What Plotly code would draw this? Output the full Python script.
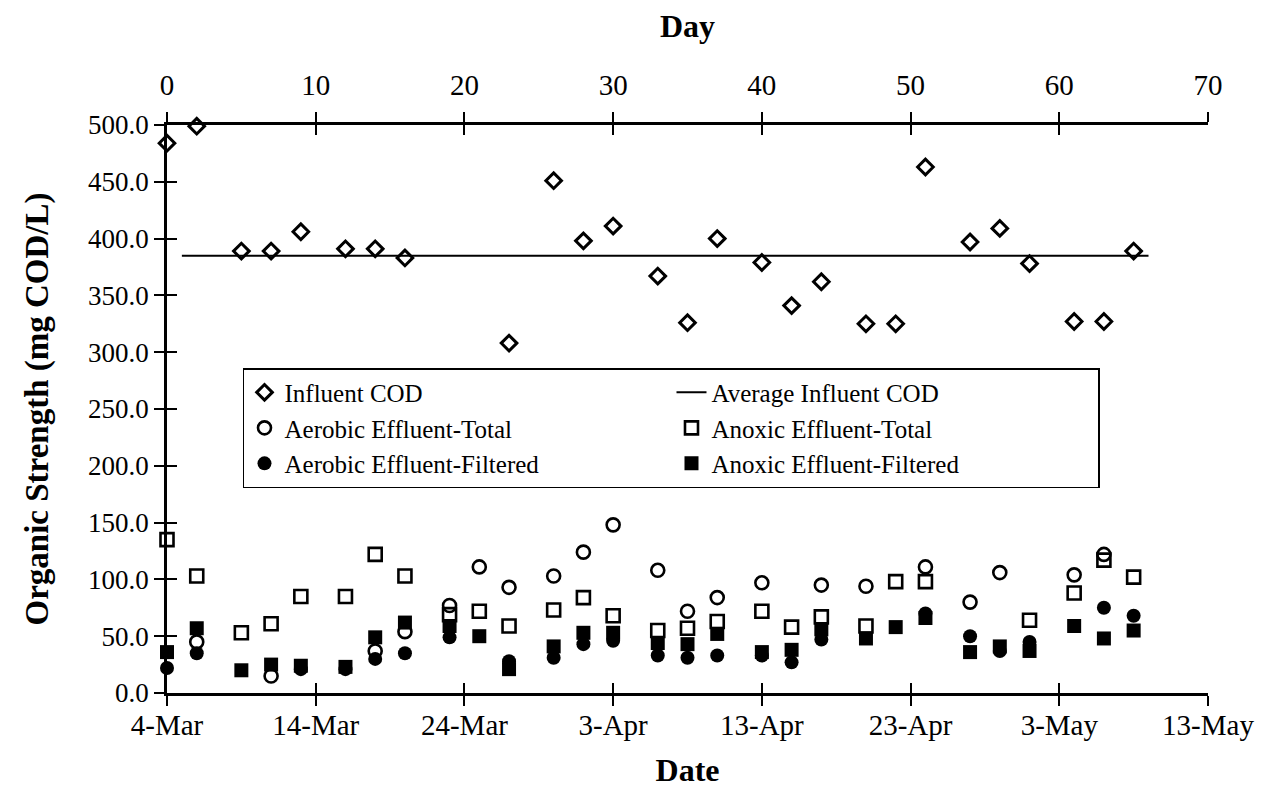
import plotly.graph_objects as go

# ---- data (x = day of operation, 0 = 4-Mar) ----
days = [0, 2, 5, 7, 9, 12, 14, 16, 19, 21, 23, 26, 28, 30, 33, 35, 37, 40, 42, 44,
        47, 49, 51, 54, 56, 58, 61, 63, 65]

influent_cod = [484, 499, 389, 389, 406, 391, 391, 383, None, None, 308, 451, 398, 411,
                367, 326, 400, 379, 341, 362, 325, 325, 463, 397, 409, 378, 327, 327, 389]

avg_days = [1, 66]
avg_influent = [385, 385]

aerobic_total = [None, 45, None, 15, None, None, 37, 54, 77, 111, 93, 103, 124, 148,
                 108, 72, 84, 97, None, 95, 94, None, 111, 80, 106, None, 104, 122, None]

anoxic_total = [135, 103, 53, 61, 85, 85, 122, 103, 69, 72, 59, 73, 84, 68,
                55, 57, 63, 72, 58, 67, 59, 98, 98, None, None, 64, 88, 117, 102]

aerobic_filtered = [22, 35, None, None, 21, 21, 30, 35, 49, None, 28, 31, 43, 46,
                    33, 31, 33, 33, 27, 47, None, None, 70, 50, 37, 45, None, 75, 68]

anoxic_filtered = [36, 57, 20, 25, 24, 23, 49, 62, 59, 50, 21, 41, 53, 53,
                   44, 43, 52, 36, 38, 56, 48, 58, 66, 36, 41, 37, 59, 48, 55]

day_ticks = [0, 10, 20, 30, 40, 50, 60, 70]
date_labels = ["4-Mar", "14-Mar", "24-Mar", "3-Apr", "13-Apr", "23-Apr", "3-May", "13-May"]
y_ticks = [0, 50, 100, 150, 200, 250, 300, 350, 400, 450, 500]

FONT = "Liberation Serif"

fig = go.Figure()

fig.add_trace(go.Scatter(
    x=days, y=influent_cod, mode="markers", name="Influent COD",
    marker=dict(symbol="diamond-open", size=12, color="black", line=dict(width=3, color="black")),
    cliponaxis=False))
fig.add_trace(go.Scatter(
    x=avg_days, y=avg_influent, mode="lines", name="Average Influent COD",
    line=dict(color="black", width=2), cliponaxis=False))
fig.add_trace(go.Scatter(
    x=days, y=aerobic_total, mode="markers", name="Aerobic Effluent-Total",
    marker=dict(symbol="circle-open", size=13, color="black", line=dict(width=2.6, color="black")),
    cliponaxis=False))
fig.add_trace(go.Scatter(
    x=days, y=anoxic_total, mode="markers", name="Anoxic Effluent-Total",
    marker=dict(symbol="square-open", size=13, color="black", line=dict(width=2.6, color="black")),
    cliponaxis=False))
fig.add_trace(go.Scatter(
    x=days, y=aerobic_filtered, mode="markers", name="Aerobic Effluent-Filtered",
    marker=dict(symbol="circle", size=14, color="black"),
    cliponaxis=False))
fig.add_trace(go.Scatter(
    x=days, y=anoxic_filtered, mode="markers", name="Anoxic Effluent-Filtered",
    marker=dict(symbol="square", size=14, color="black"),
    cliponaxis=False))

# empty helper traces so that the extra (top / crossing-tick) axes are drawn
for xa, ya in [("x2", "y"), ("x3", "y"), ("x4", "y"), ("x", "y2")]:
    fig.add_trace(go.Scatter(x=[None], y=[None], xaxis=xa, yaxis=ya, mode="markers",
                             showlegend=False, hoverinfo="skip"))

xtickfont = dict(family=FONT, size=29, color="black")
ytickfont = dict(family=FONT, size=27, color="black")
common_x = dict(range=[0, 70], tickvals=day_ticks, showgrid=False, zeroline=False,
                linecolor="black", tickcolor="black", ticklen=10, tickwidth=2)

fig.update_layout(
    width=1262, height=786,
    paper_bgcolor="white", plot_bgcolor="white",
    margin=dict(l=159, r=62, t=117, b=101),
    font=dict(family=FONT, color="black"),
    xaxis=dict(**common_x, ticktext=date_labels, ticks="outside", showline=True, linewidth=2.5,
               tickfont=xtickfont, side="bottom", ticklabelstandoff=-6,
               title=dict(text="<b>Date</b>", font=dict(family=FONT, size=32), standoff=20)),
    xaxis2=dict(**common_x, ticktext=[str(d) for d in day_ticks], overlaying="x", anchor="y",
                side="top", ticks="outside", showline=True, linewidth=2.5, tickfont=xtickfont,
                ticklabelstandoff=6,
                title=dict(text="<b>Day</b>", font=dict(family=FONT, size=32), standoff=22)),
    xaxis3=dict(**common_x, overlaying="x", anchor="y", side="bottom", ticks="inside",
                showticklabels=False, showline=False),
    xaxis4=dict(**common_x, overlaying="x", anchor="y", side="top", ticks="inside",
                showticklabels=False, showline=False),
    yaxis=dict(range=[0, 500], tickvals=y_ticks, tickformat=".1f", ticks="outside",
               ticklen=10, tickwidth=2, tickcolor="black", showline=True, linewidth=2.5,
               linecolor="black", showgrid=False, zeroline=False, tickfont=ytickfont,
               title=dict(text="<b>Organic Strength (mg COD/L)</b>",
                          font=dict(family=FONT, size=33), standoff=30)),
    yaxis2=dict(range=[0, 500], tickvals=y_ticks, overlaying="y", anchor="x", side="left",
                ticks="inside", ticklen=10, tickwidth=2, tickcolor="black",
                showticklabels=False, showline=False, showgrid=False, zeroline=False),
    legend=dict(orientation="h", x=0.073, y=0.572, xanchor="left", yanchor="top",
                entrywidth=382, entrywidthmode="pixels", traceorder="normal",
                bordercolor="black", borderwidth=1.5, bgcolor="white",
                font=dict(family=FONT, size=25, color="black"), itemsizing="trace"),
    showlegend=True,
)

fig.write_html("out.html")
